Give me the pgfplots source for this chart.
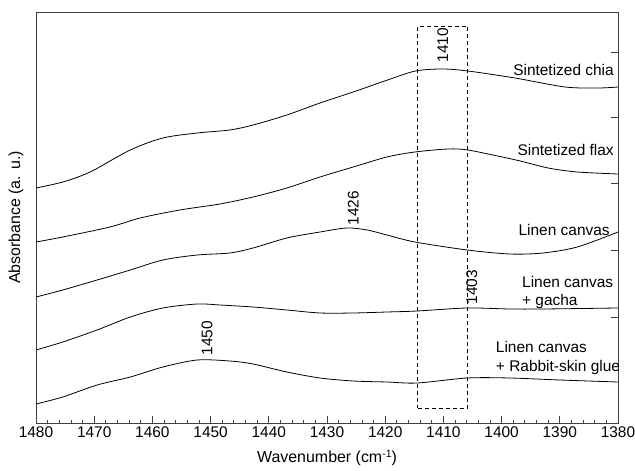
\documentclass[border=0pt]{standalone}
\usepackage{pgfplots}
\pgfplotsset{compat=1.18}
\usepackage{fontspec}
\setmainfont{Liberation Sans}
\begin{document}
\begin{tikzpicture}
\path[use as bounding box] (-36bp,-48bp) rectangle (599bp,423bp);
\begin{axis}[
  at={(0,0)}, anchor=south west,
  scale only axis, width=582bp, height=411bp,
  x dir=reverse, xmin=1380, xmax=1480, ymin=0, ymax=411,
  xtick={1380,1390,...,1480}, minor x tick num=4,
  xtick pos=bottom, ytick pos=right, yticklabel pos=left,
  ytick={106,173,240,306,371}, yticklabels={},
  tick align=inside,
  major tick length=7bp, minor tick length=3.5bp,
  axis line style={line width=0.8pt, black!75},
  every tick/.style={line width=0.8pt, black!75},
  /pgf/number format/assume math mode=true,
  /pgf/number format/1000 sep={},
  tick label style={font=\fontsize{15.5}{17}\selectfont},
  label style={font=\fontsize{16}{19}\selectfont},
  xlabel={Wavenumber (cm\raisebox{0.65ex}{\fontsize{10.5}{11}\selectfont -1})},
  ylabel={Absorbance (a. u.)},
  xlabel style={at={(axis description cs:0.5,0)}, anchor=center, yshift=-35bp},
  ylabel style={at={(axis description cs:-0.0344,0.5)}, anchor=center},
  clip=false,
]
\addplot[black, line width=0.8pt, smooth, tension=0.5] coordinates {
(1480,235) (1475.4,241) (1470.7,251) (1463.8,273) (1458.2,285) (1452.3,290) (1446.7,293) (1442.7,298) (1436.9,308) (1431.2,320) (1425.5,331) (1419.6,343) (1414.8,352) (1410.2,354) (1405.8,352) (1397.7,345) (1389.1,336) (1383.4,335) (1380,336)};
\addplot[black, line width=0.8pt, smooth, tension=0.5] coordinates {
(1480,181) (1475.4,186) (1467.3,196) (1462.1,205) (1455.3,213) (1448.4,219) (1442.7,226) (1436.9,235) (1431.2,246) (1425.5,256) (1419.7,266) (1414.9,271) (1409.2,274) (1405.8,273) (1399.9,266) (1396.8,262) (1392,255) (1387,251) (1380,249)};
\addplot[black, line width=0.8pt, smooth, tension=0.5] coordinates {
(1480,126) (1475.4,133) (1469.5,143) (1463.8,153) (1458.2,163) (1452.3,168) (1446.7,170) (1442.7,175) (1436.9,185) (1431.2,191) (1426.6,195) (1423.1,193) (1419.7,188) (1414.9,181) (1405.9,173) (1398.6,169) (1392.9,170) (1387,176) (1380,191)};
\addplot[black, line width=0.8pt, smooth, tension=0.5] coordinates {
(1480,73) (1475.4,81) (1469.5,93) (1463.8,106) (1458.2,115) (1452.3,119) (1448.4,118) (1442.7,116) (1436.9,113) (1431.2,110) (1425.5,110) (1419.7,111) (1414.5,112) (1405.9,115) (1398.6,114) (1392.9,114) (1380,115)};
\addplot[black, line width=0.8pt, smooth, tension=0.5] coordinates {
(1480,19) (1475.4,26) (1469.5,38) (1463.8,46) (1458.2,56) (1452.3,63) (1446.7,62) (1442.7,59) (1436.9,51) (1431.2,45) (1425.5,42) (1419.7,41) (1414.5,40) (1405.9,45) (1398.6,45) (1390,43) (1380,41)};
\addplot[black, line width=0.8pt, dash pattern=on 4bp off 3bp] coordinates {
(1414.4,15) (1405.8,15) (1405.8,397) (1414.4,397) (1414.4,15)};
\begin{scope}[every node/.style={font=\fontsize{15.5}{18.5}\selectfont}]
\node[rotate=90] at (axis cs:1410.1,378) {1410};
\node[rotate=90] at (axis cs:1425.5,215) {1426};
\node[rotate=90] at (axis cs:1405.1,136) {1403};
\node[rotate=90] at (axis cs:1450.6,85) {1450};
\node[anchor=east, inner sep=0pt] at (axis cs:1380.7,353) {Sintetized chia};
\node[anchor=east, inner sep=0pt] at (axis cs:1380.7,273) {Sintetized flax};
\node[anchor=east, inner sep=0pt] at (axis cs:1381.4,193) {Linen canvas};
\node[anchor=west, inner sep=0pt] at (axis cs:1396.5,141) {Linen canvas};
\node[anchor=west, inner sep=0pt] at (axis cs:1396.5,121) {+ gacha};
\node[anchor=west, inner sep=0pt] at (axis cs:1401,76) {Linen canvas};
\node[anchor=west, inner sep=0pt] at (axis cs:1401,55) {+ Rabbit-skin glue};
\end{scope}
\end{axis}
\end{tikzpicture}
\end{document}
